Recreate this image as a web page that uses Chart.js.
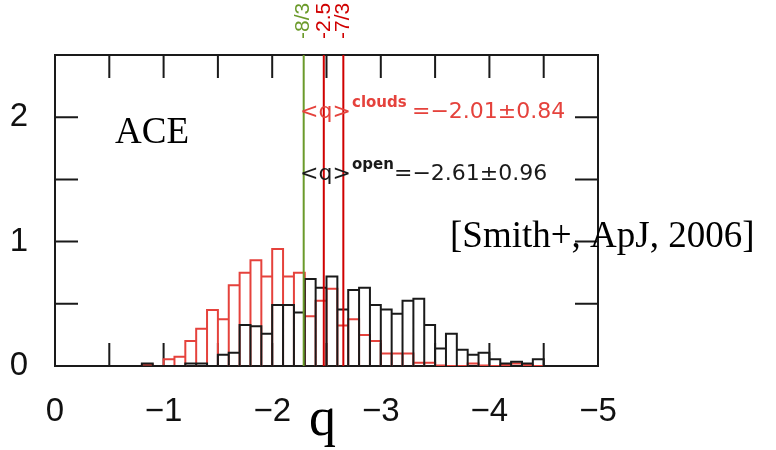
<!DOCTYPE html>
<html>
<head>
<meta charset="utf-8">
<script src="https://cdn.jsdelivr.net/npm/chart.js@4.4.1/dist/chart.umd.min.js"></script>
<style>
  html, body { margin: 0; padding: 0; background: #fff; }
  #wrap { width: 776px; height: 450px; }
</style>
</head>
<body>
<div id="wrap"><canvas id="chart" width="776" height="450"></canvas></div>
<script>
// histogram bins of q, edges from 0 down to -5
const binEdges = [
  0, -0.1, -0.2, -0.3, -0.4, -0.5, -0.6, -0.7, -0.8, -0.9,
  -1.0, -1.1, -1.2, -1.3, -1.4, -1.5, -1.6, -1.7, -1.8, -1.9,
  -2.0, -2.1, -2.2, -2.3, -2.4, -2.5, -2.6, -2.7, -2.8, -2.9,
  -3.0, -3.1, -3.2, -3.3, -3.4, -3.5, -3.6, -3.7, -3.8, -3.9,
  -4.0, -4.1, -4.2, -4.3, -4.4, -4.5, -4.6, -4.7, -4.8, -4.9, -5.0
];

const openCounts = [
  0, 0, 0, 0, 0, 0, 0, 0, 0.02, 0,
  0, 0, 0.02, 0.02, 0, 0.09, 0.107, 0.33, 0.32, 0.26,
  0.49, 0.49, 0.43, 0.70, 0.63, 0.72, 0.455, 0.61, 0.63, 0.49,
  0.455, 0.42, 0.525, 0.54, 0.33, 0.14, 0.26, 0.13, 0.09, 0.107,
  0.054, 0.02, 0.035, 0.02, 0.054, 0, 0, 0, 0, 0
];

const cloudsCounts = [
  0, 0, 0, 0, 0, 0, 0, 0, 0.013, 0,
  0.054, 0.075, 0.20, 0.30, 0.45, 0.375, 0.65, 0.75, 0.85, 0.72,
  0.94, 0.72, 0.75, 0.40, 0.525, 0.62, 0.325, 0.375, 0.25, 0.20,
  0.10, 0.10, 0.10, 0.027, 0.027, 0.005, 0, 0, 0.02, 0.005,
  0, 0.008, 0.02, 0.008, 0, 0, 0, 0, 0, 0
];

const markerValues = [-2.29, -2.475, -2.655];
const markerLabels = ['-8/3', '-2.5', '-7/3'];
const markerColors = ['#6b9a2a', '#d00000', '#d00000'];

const xTickValues = [0, -1, -2, -3, -4, -5];
const yTickValues = [0, 1, 2];
const xTickMarks = [0, -0.5, -1, -1.5, -2, -2.5, -3, -3.5, -4, -4.5, -5];
const yTickMarks = [0, 0.5, 1, 1.5, 2, 2.5];

const HIST_RED = '#e5423c';
const INK = '#1a1a1a';

// box outline of every bin, so each bar is drawn down to the baseline
const outline = (counts) => {
  const pts = [{ x: binEdges[0], y: 0 }];
  counts.forEach((v, i) => {
    pts.push({ x: binEdges[i], y: v }, { x: binEdges[i + 1], y: v }, { x: binEdges[i + 1], y: 0 });
  });
  return pts;
};

const framePlugin = {
  id: 'frame',
  beforeDatasetsDraw(chart) {
    const { ctx, chartArea: a, scales: { x, y } } = chart;
    ctx.save();
    ctx.strokeStyle = INK;
    ctx.lineWidth = 2;
    ctx.strokeRect(a.left, a.top, a.right - a.left, a.bottom - a.top);
    ctx.beginPath();
    xTickMarks.forEach((v) => {
      const px = x.getPixelForValue(v);
      ctx.moveTo(px, a.bottom);
      ctx.lineTo(px, a.bottom - 23);
      ctx.moveTo(px, a.top);
      ctx.lineTo(px, a.top + 23);
    });
    yTickMarks.forEach((v) => {
      const py = y.getPixelForValue(v);
      ctx.moveTo(a.left, py);
      ctx.lineTo(a.left + 23, py);
      ctx.moveTo(a.right, py);
      ctx.lineTo(a.right - 23, py);
    });
    ctx.stroke();
    ctx.restore();
  },
  afterDraw(chart) {
    const { ctx, chartArea: a, scales: { x } } = chart;
    ctx.save();

    // rotated labels over the marker lines
    ctx.font = '21px "Liberation Sans", Arial, sans-serif';
    ctx.textBaseline = 'middle';
    ctx.textAlign = 'left';
    markerValues.forEach((v, i) => {
      const px = x.getPixelForValue(v);
      ctx.save();
      ctx.translate(px, 39);
      ctx.rotate(-Math.PI / 2);
      ctx.fillStyle = markerColors[i];
      ctx.fillText(markerLabels[i], 0, 0);
      ctx.restore();
    });

    ctx.textBaseline = 'alphabetic';
    ctx.fillStyle = '#000';
    ctx.font = '37px "Liberation Serif", "Times New Roman", serif';
    ctx.fillText('ACE', 115, 143);
    ctx.fillText('[Smith+, ApJ, 2006]', 450, 247);

    ctx.font = '54px "Liberation Serif", "Times New Roman", serif';
    ctx.textAlign = 'center';
    ctx.fillText('q', (a.left + a.right) / 2 - 4, 435);
    ctx.textAlign = 'left';

    const mean = (sup, value, color, base, supX, valX) => {
      ctx.fillStyle = color;
      ctx.font = '22px "DejaVu Sans", sans-serif';
      ctx.fillText('<q>', 300, base);
      ctx.fillText(value, valX, base);
      ctx.font = 'bold 15px "DejaVu Sans", sans-serif';
      ctx.fillText(sup, supX, base - 11);
    };
    mean('clouds', '=\u22122.01\u00b10.84', HIST_RED, 118, 352, 412);
    mean('open', '=\u22122.61\u00b10.96', INK, 180, 352, 394);

    ctx.restore();
  }
};

new Chart(document.getElementById('chart'), {
  type: 'line',
  data: {
    datasets: [
      ...markerValues.map((v, i) => ({
        data: [{ x: v, y: 0 }, { x: v, y: 2.5 }],
        borderColor: markerColors[i],
        borderWidth: 2,
        pointRadius: 0,
        order: 0
      })),
      {
        label: 'open',
        data: outline(openCounts),
        borderColor: INK,
        borderWidth: 2,
        pointRadius: 0,
        tension: 0,
        order: 1
      },
      {
        label: 'clouds',
        data: outline(cloudsCounts),
        borderColor: HIST_RED,
        borderWidth: 2,
        pointRadius: 0,
        tension: 0,
        order: 2
      }
    ]
  },
  options: {
    responsive: false,
    animation: false,
    layout: { padding: { left: 0, right: 178, top: 55, bottom: 0 } },
    plugins: {
      legend: { display: false },
      tooltip: { enabled: false }
    },
    scales: {
      x: {
        type: 'linear',
        reverse: true,
        min: -5,
        max: 0,
        grid: { display: false },
        border: { display: false },
        afterBuildTicks: (s) => { s.ticks = xTickValues.map((v) => ({ value: v })); },
        afterFit: (s) => { s.height = 84; },
        ticks: {
          padding: 18,
          color: '#111',
          maxRotation: 0,
          autoSkip: false,
          font: { family: '"Liberation Sans", Arial, sans-serif', size: 33 },
          callback: (v) => (v === 0 ? '0' : '\u2212' + Math.abs(v))
        }
      },
      y: {
        min: 0,
        max: 2.5,
        grid: { display: false },
        border: { display: false },
        afterBuildTicks: (s) => { s.ticks = yTickValues.map((v) => ({ value: v })); },
        afterFit: (s) => { s.width = 55; },
        ticks: {
          padding: 19,
          color: '#111',
          font: { family: '"Liberation Sans", Arial, sans-serif', size: 33 }
        }
      }
    }
  },
  plugins: [framePlugin]
});
</script>
</body>
</html>
